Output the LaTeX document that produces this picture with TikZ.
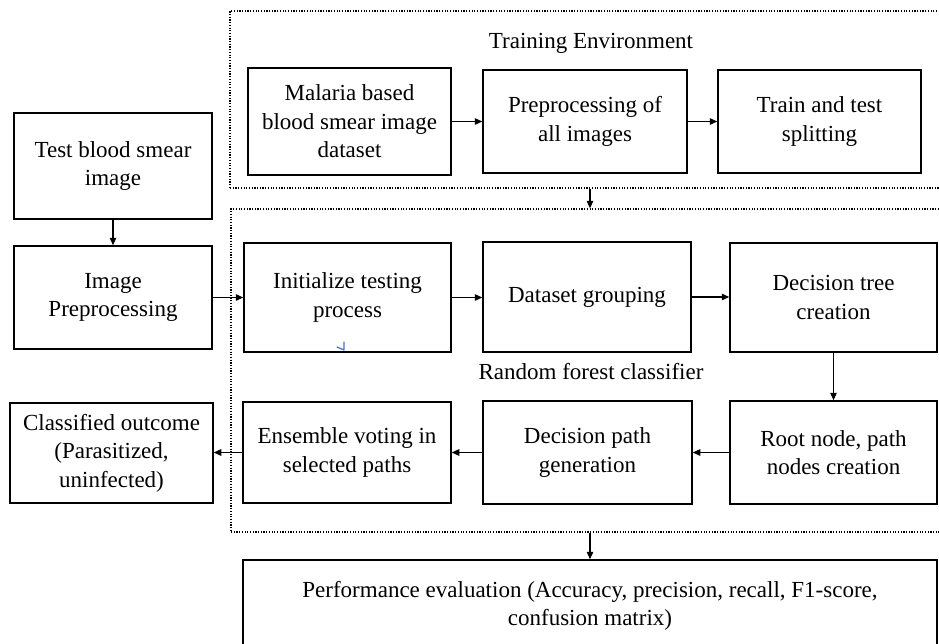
\documentclass[tikz,border=0pt]{standalone}
\usepackage{fontspec}
\setmainfont{Liberation Serif}
\usetikzlibrary{arrows.meta}
\begin{document}
\begin{tikzpicture}[x=1pt,y=-1pt,
  box/.style={draw, line width=1.5pt, align=center, inner sep=2pt, font=\fontsize{23}{28.5}\selectfont},
  lbl/.style={inner sep=0pt, font=\fontsize{23}{28.5}\selectfont},
  arr/.style={line width=1.3pt, -{Triangle[length=7.5pt,width=6.5pt]}},
  env/.style={draw, line width=1.3pt, dash pattern=on 1.2pt off 1.5pt, inner sep=0pt}]
\useasboundingbox (0,0) rectangle (939,643);
\clip (0,0) rectangle (939,643);
% environments
\node[env, minimum width=720pt, minimum height=177pt] (trainenv) at (590,99.5) {};
\node[env, minimum width=719pt, minimum height=323pt] (rfenv) at (590.5,370.5) {};
\node[lbl] (trainlbl) at (591,43) {Training Environment};
\node[lbl] (rflbl) at (591,372) {Random forest classifier};
% boxes
\node[box, minimum width=198pt, minimum height=106pt] (test) at (113,166) {Test blood smear\\image};
\node[box, minimum width=198pt, minimum height=103pt] (imgpre) at (113,297.5) {Image\\Preprocessing};
\node[box, minimum width=203pt, minimum height=107pt] (malaria) at (349.5,121.5) {Malaria based\\blood smear image\\dataset};
\node[box, minimum width=204pt, minimum height=103pt] (prep) at (585,121.5) {Preprocessing of\\all images};
\node[box, minimum width=203pt, minimum height=103pt] (split) at (819.5,121.5) {Train and test\\splitting};
\node[box, minimum width=207pt, minimum height=109pt] (init) at (347.5,297.5) {Initialize testing\\process};
\node[box, minimum width=208pt, minimum height=110pt] (group) at (587,297) {Dataset grouping};
\node[box, minimum width=207pt, minimum height=109pt] (tree) at (833.5,297.5) {Decision tree\\creation};
\node[box, minimum width=207pt, minimum height=103pt] (root) at (833.5,452.5) {Root node, path\\nodes creation};
\node[box, minimum width=209pt, minimum height=103pt] (path) at (587.5,452.5) {Decision path\\generation};
\node[box, minimum width=208pt, minimum height=101pt] (ens) at (347,452.5) {Ensemble voting in\\selected paths};
\node[box, minimum width=203pt, minimum height=100pt] (cls) at (111.5,453) {Classified outcome\\(Parasitized,\\uninfected)};
\node[box, minimum width=694pt, minimum height=92pt] (perf) at (590,606) {Performance evaluation (Accuracy, precision, recall, F1-score,\\confusion matrix)};
% connectors
\coordinate (mid) at (590,0);
\draw[arr] (test.south) -- (imgpre.north);
\draw[arr] (imgpre.east) -- (init.west |- imgpre.east);
\draw[arr] (malaria.east) -- (prep.west);
\draw[arr] (prep.east) -- (split.west);
\draw[arr] (mid |- trainenv.south) -- (mid |- rfenv.north);
\draw[arr] (init.east) -- (group.west |- init.east);
\draw[arr] (group.east) -- (tree.west |- group.east);
\draw[arr] (tree.south) -- (root.north);
\draw[arr] (root.west) -- (path.east);
\draw[arr] (path.west) -- (ens.east |- path.west);
\draw[arr] (ens.west) -- (cls.east |- ens.west);
\draw[arr] (perf.north |- rfenv.south) -- (perf.north);
% stray pen mark
\draw[line width=1.2pt, color={rgb,255:red,70;green,110;blue,210}, line cap=round, line join=round] (337,347) -- (344,350) -- (344,342);
\end{tikzpicture}
\end{document}
